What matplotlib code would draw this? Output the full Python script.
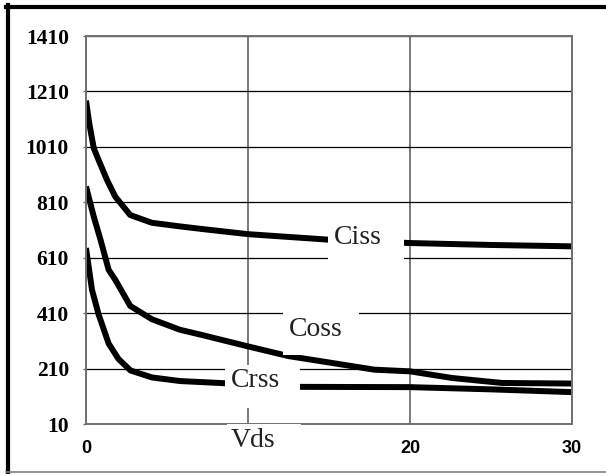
import matplotlib.pyplot as plt
from matplotlib.patches import Rectangle
from matplotlib.lines import Line2D

# capacitance curves
ciss_x = [0, 0.2, 0.48, 0.78, 1.3, 1.81, 2.73, 4.07, 5.8, 7.1, 10, 12.5, 15, 17.5, 20, 25, 30]
ciss_y = [1177, 1095, 1005, 962, 890, 830, 764, 736, 723, 714, 695, 685, 675, 669, 663, 656, 651]

coss_x = [0, 0.48, 0.9, 1.4, 1.81, 2.73, 4.07, 5.8, 7.1, 10, 12.5, 15, 17.8, 20, 22.6, 25.7, 30]
coss_y = [867, 758, 674, 566, 530, 436, 388, 350, 332, 290, 255, 232, 206, 200, 176, 158, 156]

crss_x = [0, 0.37, 0.78, 1.4, 2.0, 2.75, 4.07, 5.8, 8.6, 13.3, 20, 25, 30]
crss_y = [645, 494, 405, 300, 245, 203, 178, 165, 157, 144, 143, 135, 125]

y_ticks = [10, 210, 410, 610, 810, 1010, 1210, 1410]
x_ticks = [0, 10, 20, 30]
x_labels = ['0', '', '20', '30']

plt.rcParams['font.family'] = 'Liberation Serif'

fig = plt.figure(figsize=(6.06, 4.74), dpi=100)
ax = fig.add_axes([86/606, 1-424/474, (572-86)/606, (424-36)/474])

for xs, ys in [(ciss_x, ciss_y), (coss_x, coss_y), (crss_x, crss_y)]:
    ax.plot(xs, ys, color='black', lw=4.3, solid_joinstyle='round',
            solid_capstyle='butt', zorder=2)

ax.set_xlim(0, 30)
ax.set_ylim(10, 1410)
ax.set_yticks(y_ticks)
ax.set_xticks(x_ticks)

ax.grid(axis='y', color='black', lw=0.9, zorder=1)
ax.grid(axis='x', color='#707070', lw=1.3, zorder=1)
ax.set_axisbelow(True)

for s in ax.spines.values():
    s.set_color('#707070')
    s.set_linewidth(1.4)

# tick labels drawn as plain text so their size is exact
ax.tick_params(axis='y', length=2, width=1, color='#707070', labelleft=False)
ax.tick_params(axis='x', length=0, labelbottom=False)
for v in y_ticks:
    ax.text(-0.035, v, str(v), transform=ax.get_yaxis_transform(),
            ha='right', va='center_baseline', fontsize=15.5, fontweight='bold')
for v, s in zip(x_ticks, x_labels):
    ax.text(v, -0.062, s, transform=ax.get_xaxis_transform(), ha='center',
            va='center', fontsize=13, fontweight='bold', family='Liberation Sans')

# white boxes behind curve labels
def label(txt, x0, x1, y0, y1, tx, ty):
    ax.add_patch(Rectangle((x0, y0), x1 - x0, y1 - y0, facecolor='white',
                           edgecolor='none', zorder=4, clip_on=False))
    ax.text(tx, ty, txt, ha='left', va='center', fontsize=20,
            color='#222222', zorder=5)

label('Ciss', 14.94, 19.63, 595, 739, 15.3, 682)
label('Coss', 12.16, 16.85, 259, 421, 12.5, 350)
label('Crss', 8.58, 13.2, 68, 223, 8.95, 167)
label('Vds', 8.68, 13.3, -120, 10, 8.95, -50)

# outer frame
fig.add_artist(Line2D([8/606, 8/606], [1-5/474, 1-473/474], color='black', lw=3))
fig.add_artist(Line2D([6/606, 1], [1-7/474, 1-7/474], color='black', lw=3))
fig.add_artist(Line2D([6/606, 1], [1-472/474, 1-472/474], color='#808080', lw=1.2))

fig.savefig('out.png', dpi=100)
